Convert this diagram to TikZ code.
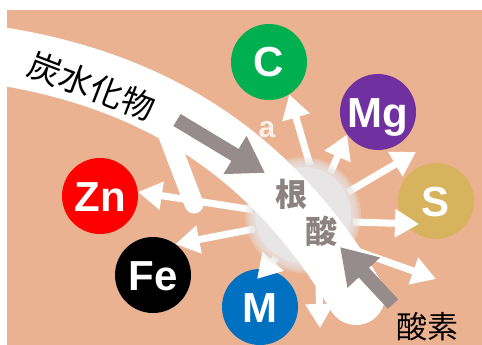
\documentclass[tikz,border=0pt]{standalone}
\usepackage{fontspec}
\setmainfont{Liberation Sans}
\newfontfamily\jp{Noto Sans CJK JP}
\usetikzlibrary{arrows.meta}

\definecolor{skin}{RGB}{235,178,145}
\definecolor{cgreen}{RGB}{0,176,80}
\definecolor{cpurple}{RGB}{112,48,160}
\definecolor{cgold}{RGB}{214,179,92}
\definecolor{cblue}{RGB}{0,112,192}
\definecolor{flowgray}{RGB}{150,140,140}
\definecolor{rootgray}{RGB}{140,130,130}
\definecolor{cellgray}{RGB}{231,229,229}

\begin{document}
\begin{tikzpicture}[x=1pt, y=-1pt, line join=round,
	elem/.style={circle, minimum size=76pt, inner sep=0pt, text=white, text height=30pt, text depth=0pt, font=\fontsize{42}{42}\selectfont\bfseries},
	wflow/.style={white, line width=7pt, -{Triangle[length=24pt, width=27pt]}},
	gflow/.style={flowgray, line width=14pt, -{Triangle[length=35pt, width=42pt]}}]
		\useasboundingbox (0,0) rectangle (482,345);
		\fill[skin] (7,10) rectangle (482,345);
		
		\node[elem, fill=cgreen] (c) at (269,62) {C};
		\node[elem, fill=cpurple] (mg) at (378,112) {Mg};
		\node[elem, fill=cgold] (s) at (436,201) {S};
		\node[elem, fill=red] (zn) at (100,196) {Zn};
		\node[elem, fill=black] (fe) at (153,275) {Fe};
		\node[elem, fill=cblue] (m) at (260,307) {M};
		
		\node[circle, minimum size=100pt, inner sep=0pt] (cell) at (303,215) {};
		\coordinate (p1) at (416,152);
		\coordinate (p2) at (419,224);
		\coordinate (p3) at (436,279);
		\coordinate (p4) at (320,328);
		\coordinate (p5) at (257,279);
		
		\draw[wflow] (cell.82) -- (c.302);
		\draw[wflow] (cell.57) -- (mg.216);
		\draw[wflow] (cell.27) -- (p1);
		\draw[wflow] (cell.-8) -- (p2);
		\draw[wflow] (cell.-38) -- (p3);
		\draw[wflow] (cell.-72) -- (p4);
		\draw[wflow] (cell.238) -- (p5);
		\draw[wflow] (cell.196) -- (fe.54);
		\draw[wflow] (cell.174) -- (zn.6);
		
		\foreach \r in {58,56,...,50}
			\fill[cellgray, opacity=0.3] (cell) circle[radius=\r pt];
		\fill[cellgray] (cell) circle[radius=48pt];
		
		\draw[white, line width=58pt, line cap=round] (-30,50) -- (0,56) .. controls (150,80) and (270,150) .. (356,296);
		\draw[white, line width=19pt, line cap=round] (165,128) -- (194,204);
		
		\node[white, opacity=0.8, font=\fontsize{30}{30}\selectfont\bfseries] (a) at (267,130) {a};
		\node[rotate=-21, font=\jp\fontsize{33}{33}\selectfont] (carb) at (92,86) {炭水化物};
		\node[text=rootgray, font=\jp\fontsize{32}{32}\selectfont\bfseries] (k1) at (291,194) {根};
		\node[text=rootgray, font=\jp\fontsize{32}{32}\selectfont\bfseries] (k2) at (321,231) {酸};
		\node[font=\jp\fontsize{31}{31}\selectfont] (o) at (427,327) {酸素};
		
		\coordinate (g1) at (177,120);
		\coordinate (g2) at (265,173);
		\coordinate (o1) at (393,304);
		\coordinate (o2) at (340,247);
		\draw[gflow] (g1) -- (g2);
		\draw[gflow] (o1) -- (o2);
	\end{tikzpicture}
\end{document}
